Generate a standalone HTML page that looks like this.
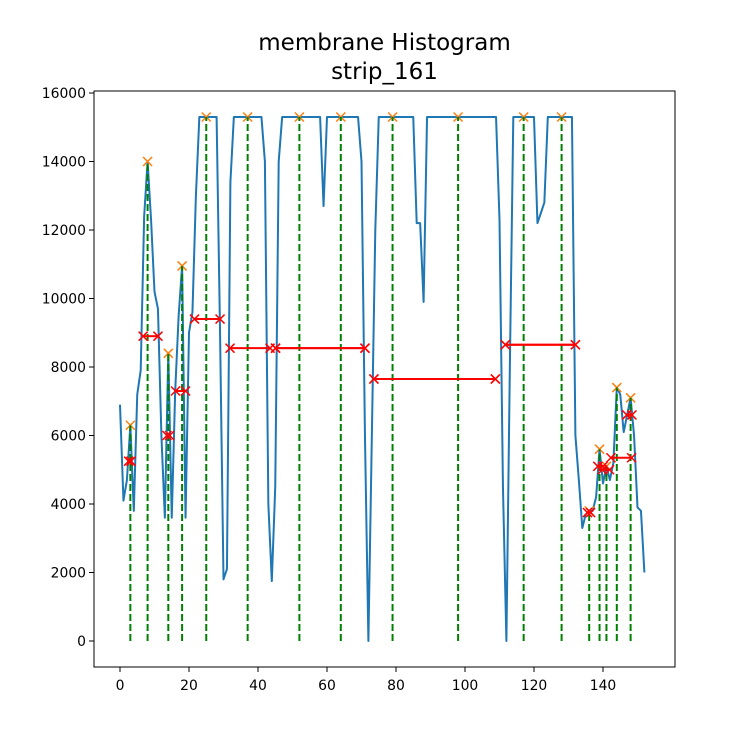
<!DOCTYPE html>
<html><head><meta charset="utf-8"><style>
body{margin:0;background:#fff;}
svg text{font-family:"DejaVu Sans","Liberation Sans",sans-serif;fill:#000;}
</style></head><body>
<svg id="chart" width="750" height="750" xmlns="http://www.w3.org/2000/svg">
<rect x="0" y="0" width="750" height="750" fill="#fff"/>
<text x="384.5" y="50" font-size="23" text-anchor="middle">membrane Histogram</text>
<text x="384.5" y="79" font-size="23" text-anchor="middle">strip_161</text>
<g id="plot"></g>
<rect x="94" y="91" width="581" height="576" fill="none" stroke="#000" stroke-width="1"/>
</svg>
<script>
const series = [6900,4100,4700,6300,3800,7200,7900,12400,14000,12300,10200,9700,6000,3600,8400,3600,7300,9500,10950,3600,9000,9600,13000,15300,15300,15300,15300,15300,15300,9000,1800,2100,13400,15300,15300,15300,15300,15300,15300,15300,15300,15300,14000,4000,1750,4500,14000,15300,15300,15300,15300,15300,15300,15300,15300,15300,15300,15300,15300,12700,15300,15300,15300,15300,15300,15300,15300,15300,15300,15300,14000,6000,0,6000,12000,15300,15300,15300,15300,15300,15300,15300,15300,15300,15300,15300,12200,12200,9900,15300,15300,15300,15300,15300,15300,15300,15300,15300,15300,15300,15300,15300,15300,15300,15300,15300,15300,15300,15300,15300,12300,4500,0,8000,15300,15300,15300,15300,15300,15300,15300,12200,12500,12800,15300,15300,15300,15300,15300,15300,15300,15300,6000,4700,3300,3700,3800,3800,4200,5600,4600,5100,4700,5200,7400,7200,6100,6600,7100,6000,3900,3800,2000];
const peaks = [3,8,14,18,25,37,52,64,79,98,117,128,136,139,141,144,148];
const widthHeights = [5250,8900,6000,7300,9400,8550,8550,8550,7650,7650,8650,8650,3750,5100,5000,5350,6600];
const widthLeft = [2.5,6.7,13.6,16.1,21.6,31.9,45.1,45.1,73.6,73.6,111.7,111.7,135.5,138.5,139.8,142.3,146.9];
const widthRight = [3.2,11.0,14.4,19.0,29.0,43.5,71.0,71.0,108.8,108.8,132.0,132.0,136.4,140.0,141.9,148.3,148.4];
const xTicks = [0,20,40,60,80,100,120,140];
const yTicks = [0,2000,4000,6000,8000,10000,12000,14000,16000];

const X = v => 120 + v*3.45;
const Y = v => 641 - v*0.03425;
const NS = 'http://www.w3.org/2000/svg';
const plot = document.getElementById('plot');
function mk(tag, attrs, parent){const e=document.createElementNS(NS,tag);for(const k in attrs)e.setAttribute(k,attrs[k]);(parent||plot).appendChild(e);return e;}
function cross(x,y,color,name){
  const g=mk('g',{stroke:color,'stroke-width':1.5});
  
  
  mk('line',{x1:x-4.5,y1:y-4.5,x2:x+4.5,y2:y+4.5},g);
  mk('line',{x1:x-4.5,y1:y+4.5,x2:x+4.5,y2:y-4.5},g);
}
xTicks.forEach(t=>{
  const l=mk('line',{x1:X(t),x2:X(t),y1:667,y2:672,stroke:'#000','stroke-width':1});
  
  
  const tx=mk('text',{x:X(t),y:690,'font-size':13.9,'text-anchor':'middle'});
  
  
  tx.textContent=t;
});
yTicks.forEach(t=>{
  const l=mk('line',{x1:89,x2:94,y1:Y(t),y2:Y(t),stroke:'#000','stroke-width':1});
  
  
  const tx=mk('text',{x:86,y:Y(t)+5,'font-size':13.9,'text-anchor':'end'});
  
  
  tx.textContent=t;
});
const pl=mk('polyline',{points:series.map((v,i)=>X(i)+','+Y(v)).join(' '),fill:'none',stroke:'#1f77b4','stroke-width':2,'stroke-linejoin':'round'});


peaks.forEach(p=>cross(X(p),Y(series[p]),'#ff7f0e','peak-marker'));
peaks.forEach(p=>{
  const l=mk('line',{x1:X(p),x2:X(p),y1:Y(0),y2:Y(series[p]),stroke:'green','stroke-width':2,'stroke-dasharray':'7,3'});
  
  
});
widthHeights.forEach((h,i)=>{
  const l=mk('line',{x1:X(widthLeft[i]),x2:X(widthRight[i]),y1:Y(h),y2:Y(h),stroke:'red','stroke-width':2});
  
  
  cross(X(widthLeft[i]),Y(h),'red','width-left-marker');
  cross(X(widthRight[i]),Y(h),'red','width-right-marker');
});
</script>
</body></html>
